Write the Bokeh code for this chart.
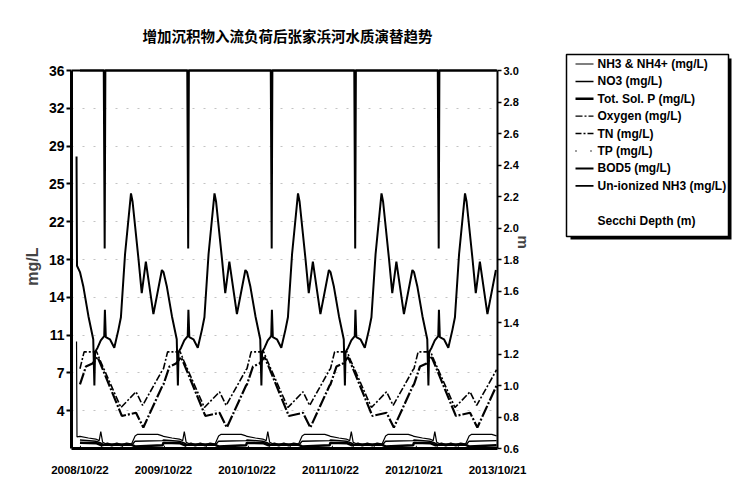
from bokeh.plotting import figure
from bokeh.models import (Range1d, LinearAxis, FixedTicker, CustomJSTickFormatter,
                          PrintfTickFormatter, Span, Label)
from bokeh.layouts import row
from bokeh.embed import file_html
from bokeh.resources import INLINE
from bokeh.core.properties import value

TITLE = "增加沉积物入流负荷后张家浜河水质演替趋势"

# x axis: simulation day counted from 2008/10/22
DATE_TICK_DAYS = [0, 365, 730, 1095, 1460, 1825]
DATE_TICK_LABELS = ["2008/10/22", "2009/10/22", "2010/10/22",
                    "2011/10/22", "2012/10/21", "2013/10/21"]
MG_TICKS = [3.6, 7.2, 10.8, 14.4, 18.0, 21.6, 25.2, 28.8, 32.4, 36.0]
M_TICKS = [0.6, 0.8, 1.0, 1.2, 1.4, 1.6, 1.8, 2.0, 2.2, 2.4, 2.6, 2.8, 3.0]
MG_MAX = 36.0
M_MIN, M_MAX = 0.6, 3.0
X_START, X_END = -37, 1825
N_YEARS = 5
YEAR_DAYS = 365

# annual cycles (day of the hydrological year, value); the model repeats the same forcing every year
bod5_day = [0, 15, 37, 58, 63, 66, 77, 91, 106, 109, 113, 131, 150, 168, 179, 197, 223, 230, 256, 270, 288, 321, 358]
bod5_val = [16.8, 15.4, 12.6, 10.4, 6.0, 9.2, 9.6, 10.3, 10.7, 13.2, 10.6, 10.4, 9.6, 11.3, 12.5, 18.5, 24.3, 23.5, 18.0, 14.8, 17.8, 12.8, 17.0]
bod5_start_day = [-15, -13]
bod5_start_val = [27.8, 17.4]

oxygen_day = [0, 18, 73, 88, 179, 245, 274, 361]
oxygen_val = [7.6, 9.2, 9.2, 8.4, 3.9, 5.4, 4.1, 7.5]

tn_day = [0, 26, 55, 77, 91, 183, 245, 277, 361]
tn_val = [6.1, 7.8, 8.1, 8.7, 8.0, 3.1, 3.4, 2.0, 6.0]

nh4_day = [0, 37, 69, 84, 91, 99, 113, 226, 241, 252, 340, 361]
nh4_val = [1.15, 1.0, 0.9, 0.75, 1.6, 0.6, 0.45, 0.45, 1.2, 1.35, 1.35, 1.2]
nh4_start_day = [-15, -13]
nh4_start_val = [10.2, 1.1]

no3_day = [0, 69, 88, 110, 226, 241, 361]
no3_val = [0.8, 0.7, 0.55, 0.3, 0.3, 0.7, 0.75]

tsp_day = [0, 73, 95, 120, 139, 161, 183, 204, 226, 241, 361]
tsp_val = [0.55, 0.5, 0.3, 0.45, 0.3, 0.45, 0.3, 0.45, 0.35, 0.2, 0.3]

tp_day = [0, 110, 226, 241, 361]
tp_val = [0.2, 0.15, 0.15, 0.12, 0.2]

nh3_day = [0, 219, 361]
nh3_val = [0.06, 0.04, 0.06]

# Secchi depth sits at the top of the metre scale except for the spring dip
secchi_day = [0, 104, 108, 111, 361]
secchi_val = [3.0, 3.0, 1.87, 3.0, 3.0]

LEGEND_LABELS = ["NH3 & NH4+ (mg/L)", "NO3 (mg/L)", "Tot. Sol. P (mg/L)", "Oxygen (mg/L)",
                 "TN (mg/L)", "TP (mg/L)", "BOD5 (mg/L)", "Un-ionized NH3 (mg/L)", "",
                 "Secchi Depth (m)"]


def repeat_years(days, vals, lead_days=(), lead_vals=()):
    xs, ys = list(lead_days), list(lead_vals)
    for k in range(N_YEARS):
        xs += [k * YEAR_DAYS + d for d in days]
        ys += list(vals)
    return xs, ys


FONT = "Liberation Sans"
NBSP = "\u00a0"

# page geometry: the frame runs from y=22 to y=448 (the heading lives in its top strip),
# the scales themselves occupy y=70..448, x=71..497
FRAME_TOP, SCALE_TOP, FRAME_BOTTOM = 22, 70, 448
FRAME_LEFT, FRAME_RIGHT = 71, 497
head = (SCALE_TOP - FRAME_TOP) / (FRAME_BOTTOM - SCALE_TOP)
px_per_mg = (FRAME_BOTTOM - SCALE_TOP) / MG_MAX
days_per_px = (X_END - X_START) / (FRAME_RIGHT - FRAME_LEFT)

p = figure(width=550, height=491, output_backend="svg", toolbar_location=None,
           x_range=Range1d(X_START, X_END), y_range=Range1d(0, MG_MAX * (1 + head)),
           min_border_left=FRAME_LEFT, min_border_right=550 - FRAME_RIGHT,
           min_border_top=FRAME_TOP, min_border_bottom=491 - FRAME_BOTTOM,
           background_fill_color="white", border_fill_color="white")
p.extra_y_ranges = {"m": Range1d(M_MIN, M_MAX + (M_MAX - M_MIN) * head)}

# heading, centred at page (287, 35)
p.add_layout(Label(x=X_START + (287 - FRAME_LEFT) * days_per_px,
                   y=MG_MAX + (SCALE_TOP - 35) / px_per_mg,
                   text=TITLE, text_align="center", text_baseline="middle",
                   text_font="Noto Sans CJK SC", text_font_size="14.5px",
                   text_font_style="bold", text_color="black"))

p.outline_line_color = None
p.add_layout(Span(location=MG_MAX, dimension="width", line_color="black", line_width=2))

# bottom date axis
xa = p.xaxis[0]
xa.ticker = FixedTicker(ticks=DATE_TICK_DAYS)
xa.major_label_overrides = dict(zip(DATE_TICK_DAYS, DATE_TICK_LABELS))
xa.major_tick_line_color = None
xa.minor_tick_line_color = None
xa.axis_line_width = 3
xa.major_label_standoff = 9
xa.major_label_text_font = FONT
xa.major_label_text_font_style = "bold"
xa.major_label_text_font_size = "11.5px"
xa.major_label_text_color = "black"

# left mg/L axis
ya = p.yaxis[0]
ya.bounds = (0, MG_MAX)
ya.ticker = FixedTicker(ticks=MG_TICKS)
ya.formatter = CustomJSTickFormatter(code="return Math.round(tick).toString()")
ya.axis_label = "mg/L" + NBSP * 14
ya.axis_label_text_font = FONT
ya.axis_label_text_font_style = "bold"
ya.axis_label_text_font_size = "16px"
ya.axis_label_standoff = 5
ya.axis_line_width = 3
ya.major_tick_in = 0
ya.major_tick_out = 5
ya.major_tick_line_width = 2
ya.minor_tick_line_color = None
ya.major_label_standoff = 2
ya.major_label_text_font = FONT
ya.major_label_text_font_style = "bold"
ya.major_label_text_font_size = "14px"
ya.major_label_text_color = "black"

# right metre axis
ra = LinearAxis(y_range_name="m", ticker=FixedTicker(ticks=M_TICKS),
                formatter=PrintfTickFormatter(format="%.1f"), bounds=(M_MIN, M_MAX))
ra.axis_label = "m" + NBSP * 26
ra.axis_label_orientation = -1.5708
ra.axis_label_text_font = FONT
ra.axis_label_text_font_style = "bold"
ra.axis_label_text_font_size = "15px"
ra.axis_label_standoff = 2
ra.axis_line_width = 2
ra.major_tick_in = 0
ra.major_tick_out = 4
ra.major_tick_line_width = 1.5
ra.minor_tick_line_color = None
ra.major_label_standoff = 2
ra.major_label_text_font = FONT
ra.major_label_text_font_style = "bold"
ra.major_label_text_font_size = "11px"
ra.major_label_text_color = "black"
p.add_layout(ra, "right")

p.xgrid.visible = False
p.ygrid.ticker = FixedTicker(ticks=MG_TICKS)
p.ygrid.grid_line_color = "#888888"
p.ygrid.grid_line_alpha = 0.5
p.ygrid.grid_line_dash = "2 9"

# series
x, y = repeat_years(nh4_day, nh4_val, nh4_start_day, nh4_start_val)
p.line(x, y, line_color="black", line_width=1.2)
x, y = repeat_years(no3_day, no3_val)
p.line(x, y, line_color="black", line_width=1.5)
x, y = repeat_years(tsp_day, tsp_val)
p.line(x, y, line_color="black", line_width=2.5)
x, y = repeat_years(oxygen_day, oxygen_val)
p.line(x, y, line_color="black", line_width=1.6, line_dash="7 2 2 2")
x, y = repeat_years(tn_day, tn_val)
p.line(x, y, line_color="black", line_width=2.2, line_dash="12 2 2 2")
x, y = repeat_years(tp_day, tp_val)
p.line(x, y, line_color="black", line_width=1.3, line_dash="1 20")
x, y = repeat_years(bod5_day, bod5_val, bod5_start_day, bod5_start_val)
p.line(x, y, line_color="black", line_width=2)
x, y = repeat_years(nh3_day, nh3_val)
p.line(x, y, line_color="black", line_width=1.8)
x, y = repeat_years(secchi_day, secchi_val)
p.line(x, y, line_color="black", line_width=2, y_range_name="m")

# legend panel, drawn in page pixels (its frame shares the main frame's top and bottom)
lg = figure(width=195, height=491, output_backend="svg", toolbar_location=None,
            x_range=Range1d(550, 745), y_range=Range1d(FRAME_BOTTOM, FRAME_TOP),
            x_axis_type=None, y_axis_type=None, min_border=0,
            outline_line_color=None, background_fill_color="white", border_fill_color="white")
lg.grid.visible = False

box_l, box_r, box_t, box_b = 566, 728, 54, 236
lg.quad(left=box_l + 4, right=box_r + 3, top=box_t + 4, bottom=box_b + 3,
        fill_color="black", line_color=None)
lg.quad(left=box_l, right=box_r, top=box_t, bottom=box_b,
        fill_color="white", line_color="black", line_width=1.5)

row_y = [63.5 + 17.4 * i for i in range(len(LEGEND_LABELS))]
sample_styles = [(1.2, "solid"), (1.5, "solid"), (2.5, "solid"), (1.2, "7 2 2 2"),
                 (1.5, "6 2 2 2"), (1.5, "1 14"), (2.0, "solid"), (1.8, "solid")]
for yy, (w, dash) in zip(row_y, sample_styles):
    lg.segment(x0=575, x1=593, y0=yy, y1=yy, line_color="black", line_width=w, line_dash=dash)

lg.text(x=[597] * len(LEGEND_LABELS), y=row_y, text=LEGEND_LABELS,
        text_font=value(FONT), text_font_style="bold", text_font_size="12px",
        text_baseline="middle", text_color="black")

layout = row(p, lg)
open("out.html", "w").write(file_html(layout, INLINE))
